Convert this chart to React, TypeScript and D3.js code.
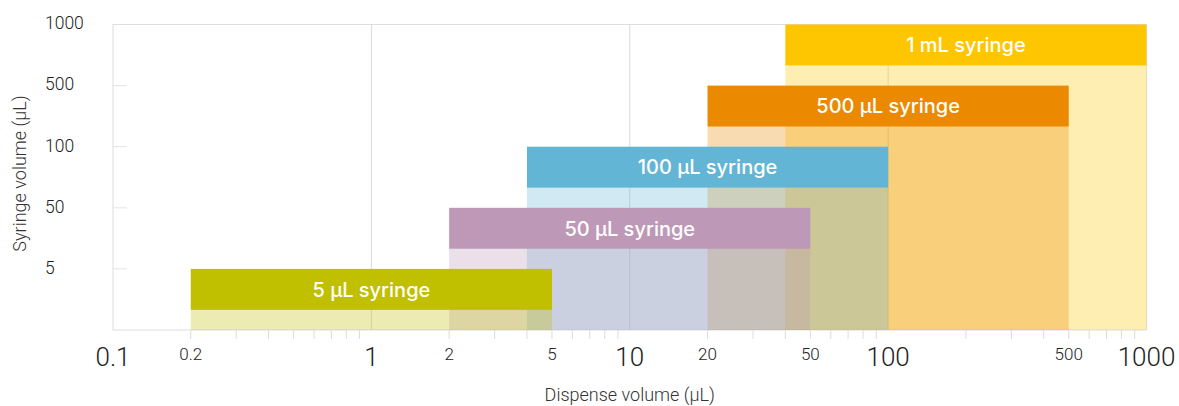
import React from "react";
import * as d3 from "d3";

const syringeLabels = ["5 µL syringe", "50 µL syringe", "100 µL syringe", "500 µL syringe", "1 mL syringe"];
const syringeVolumes = ["5", "50", "100", "500", "1000"];
const minDispense = [0.2, 2, 4, 20, 40];
const maxDispense = [5, 50, 100, 500, 1000];
const syringeColors = ["#C0BF00", "#BD99B7", "#62B5D4", "#EB8900", "#FEC600"];

const majorTickLabels = [0.1, 1, 10, 100, 1000];
const minorTickLabels = [0.2, 2, 5, 20, 50, 500];
const yTickLabels = ["5", "50", "100", "500", "1000"];

const W = 1179;
const H = 406;
const left = 113;
const right = 1146.5;
const top = 24.5;
const bottom = 330;

export default function App() {
  const x = d3.scaleLog().domain([0.1, 1000]).range([left, right]);
  const y = d3.scalePoint<string>().domain(["0", ...syringeVolumes]).range([bottom, top]);
  const headerH = 41;
  const minorTicks = x.ticks().filter((t) => t >= 0.2 && !majorTickLabels.includes(+t.toPrecision(6)) && t < 1000);
  const font = "Roboto, 'Liberation Sans', sans-serif";
  const fmt = (v: number) => String(v);
  const order = syringeVolumes.map((_, i) => i).reverse();

  return (
    <svg width={W} height={H} style={{ position: "absolute", left: 0, top: 0, background: "#fff" }}>
      {/* frame */}
      <rect x={left} y={top} width={right - left} height={bottom - top} fill="none" stroke="#dedede" strokeWidth={1} />
      {/* vertical gridlines */}
      {[1, 10, 100].map((v) => (
        <line key={v} x1={x(v)} x2={x(v)} y1={top} y2={bottom} stroke="#d9d9d9" strokeWidth={1} />
      ))}
      {/* y ticks */}
      {yTickLabels.slice(0, 4).map((v) => (
        <line key={v} x1={left} x2={left + 14} y1={y(v)} y2={y(v)} stroke="#e3e3e3" strokeWidth={1} />
      ))}
      {/* light fills: larger syringes underneath */}
      {order.map((i) => {
        const v = syringeVolumes[i];
        return (
          <rect
            key={"l" + v}
            x={x(minDispense[i])}
            y={(y(v) as number) + headerH}
            width={x(maxDispense[i]) - x(minDispense[i])}
            height={bottom - ((y(v) as number) + headerH)}
            fill={syringeColors[i]}
            fillOpacity={0.3}
          />
        );
      })}
      {/* headers */}
      {syringeVolumes.map((v, i) => (
        <g key={"h" + v}>
          <rect
            x={x(minDispense[i])}
            y={y(v) as number}
            width={x(maxDispense[i]) - x(minDispense[i])}
            height={headerH}
            fill={syringeColors[i]}
          />
          <text
            x={(x(minDispense[i]) + x(maxDispense[i])) / 2}
            y={(y(v) as number) + headerH / 2}
            dy="0.36em"
            textAnchor="middle"
            fill="#fff"
            fontFamily="Inter, 'Liberation Sans', sans-serif"
            fontWeight={500}
            fontSize={20}
          >
            {syringeLabels[i]}
          </text>
        </g>
      ))}
      {/* x minor ticks */}
      {minorTicks.map((t, i) => (
        <line key={"t" + i} x1={x(t)} x2={x(t)} y1={bottom} y2={bottom + 9} stroke="#dcdcdc" strokeWidth={1} />
      ))}
      {/* x labels */}
      {majorTickLabels.map((v) => (
        <text key={"M" + v} x={x(v)} y={366} textAnchor="middle" fontFamily={font} fontWeight={300} fontSize={26} fill="#222">
          {fmt(v)}
        </text>
      ))}
      {minorTickLabels.map((v) => (
        <text key={"m" + v} x={x(v)} y={360} textAnchor="middle" fontFamily={font} fontWeight={300} fontSize={17} fill="#222">
          {fmt(v)}
        </text>
      ))}
      {/* y labels */}
      {yTickLabels.map((v) => (
        <text key={"y" + v} x={45} y={(y(v) as number) - 1.5} dy="0.36em" fontFamily={font} fontWeight={300} fontSize={17.5} fill="#222">
          {v}
        </text>
      ))}
      {/* axis titles */}
      <text
        transform={`translate(26, ${173.5}) rotate(-90)`}
        textAnchor="middle"
        fontFamily={font}
        fontWeight={300}
        fontSize={18}
        fill="#333"
      >
        Syringe volume (µL)
      </text>
      <text x={(left + right) / 2} y={401} textAnchor="middle" fontFamily={font} fontWeight={300} fontSize={18} fill="#333">
        Dispense volume (µL)
      </text>
    </svg>
  );
}
